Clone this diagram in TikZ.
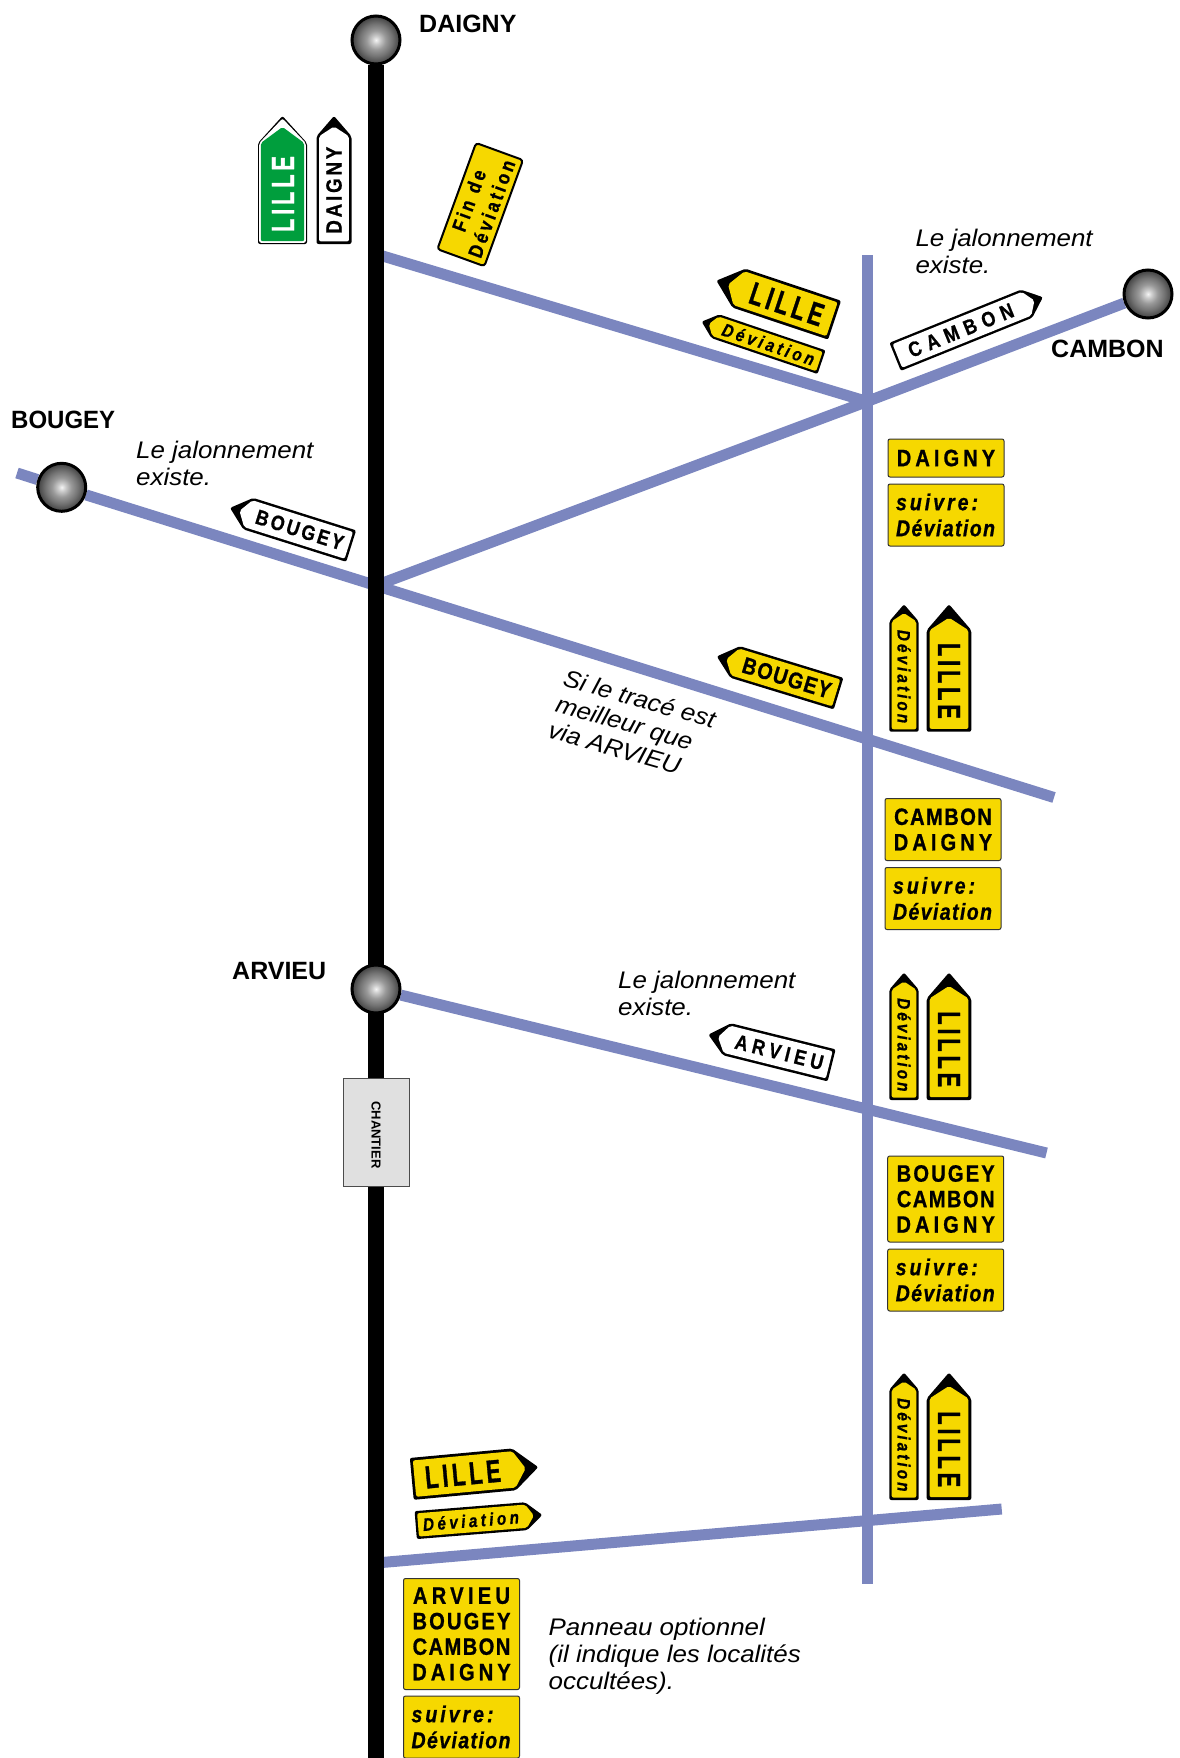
\documentclass[tikz,border=0pt]{standalone}
\usepackage{fontspec}
\setmainfont{Liberation Sans}
\newfontfamily\signfont{Liberation Sans}[FakeStretch=0.85, FakeBold=0.8]
\newfontfamily\narrowfont{Liberation Sans}[FakeStretch=0.68, FakeBold=1]
\newfontfamily\notefont{Liberation Sans}[FakeStretch=1.08]
\usepackage{xcolor}
\usepackage{tikz}
\usetikzlibrary{positioning, calc, backgrounds}
\definecolor{route}{HTML}{7B86BF}
\definecolor{jaune}{HTML}{F6D800}
\definecolor{vert}{HTML}{009E3D}
\definecolor{chantier}{HTML}{E0E0E0}
\pgfdeclareradialshading{ballsteps}{\pgfpoint{0bp}{0bp}}{color(0bp)=(black!4); color(4bp)=(black!20); color(10bp)=(black!40); color(17bp)=(black!55); color(25bp)=(black!75); color(50bp)=(black!75)}
\newcommand{\ls}[2]{{\addfontfeature{LetterSpace=#1}#2}}
\newcommand{\fz}[1]{\fontsize{#1}{#1}\selectfont}
% length, height, tip, inset, tip inset, colour
\newcommand{\fingerpoly}[6]{%
  \fill[#6, rounded corners=2pt] ({-#1/2+#4},{-#2/2+#4}) -- ({#1/2-#3},{-#2/2+#4}) -- ({#1/2-#5},0)
    -- ({#1/2-#3},{#2/2-#4}) -- ({-#1/2+#4},{#2/2-#4}) -- cycle;}
% name, centre, angle, direction, length, height, colour, text
\newcommand{\fingersign}[8]{%
  \begin{scope}[shift={(#2)}, rotate=#3, xscale=#4]
    \pgfmathsetmacro{\tipl}{0.58*#6}
    \pgfmathsetmacro{\bord}{1.5+0.03*#6}
    \pgfmathsetmacro{\wedge}{0.3*#6}
    \fingerpoly{#5}{#6}{\tipl}{0}{0}{black}
    \fingerpoly{#5}{#6}{\tipl}{\bord}{\wedge}{#7}
    \node[fingertext, rotate=#3] (#1) at ({-\tipl/2},0) {#8};
  \end{scope}}

\begin{document}
\begin{tikzpicture}[
  x=1pt, y=-1pt,
  road/.style={route, line width=11pt},
  mainroad/.style={black, line width=16pt},
  cityball/.style={circle, shade, shading=ballsteps, draw=black, line width=3pt, minimum size=48pt, inner sep=0pt},
  ville/.style={font=\bfseries\fontsize{25}{27}\selectfont, anchor=base west, inner sep=0pt},
  note/.style={font=\notefont\itshape\fontsize{24}{27}\selectfont, anchor=north west, align=left, inner sep=0pt},
  fingertext/.style={inner sep=0pt, font=\signfont\bfseries},
  panel/.style={draw=black!80, fill=jaune, line width=1pt, rounded corners=2pt, minimum width=116pt, inner sep=0pt,
                align=center, font=\signfont\bfseries\fontsize{23.7}{25.5}\selectfont},
  suivre/.style={panel, minimum height=62pt, align=left, text width=100pt, font=\signfont\bfseries\itshape\fontsize{23}{26}\selectfont}
]
  \useasboundingbox (0,0) rectangle (1180,1758);

  \coordinate (nord) at (867,255);
  \coordinate (basv) at (867,1584);
  \coordinate (carrefour) at (867,401.5);
  \coordinate (echangeur) at (376,585.5);
  \coordinate (depart) at (376,254);
  \coordinate (sortie) at (376,1563);
  \coordinate (sud) at (376,1758);
  \coordinate (finb) at (17,473);
  \coordinate (fine) at (1054,797.5);
  \coordinate (fina) at (1046.5,1153);
  \coordinate (finl) at (1001.7,1509);

  \node[cityball] (daigny) at (376,40) {};
  \node[cityball] (cambon) at (1148,294) {};
  \node[cityball] (bougey) at (61.7,487.3) {};
  \node[cityball] (arvieu) at (376,989) {};

  % Blue roads, then the closed road on top
  \begin{scope}[on background layer]
    \draw[road] (nord) -- (basv);
    \draw[road] (depart) -- (carrefour);
    \draw[road] (echangeur) -- (carrefour) -- (cambon);
    \draw[road] (finb) -- (bougey);
    \draw[road] (bougey) -- (fine);
    \draw[road] (arvieu) -- (fina);
    \draw[road] (sortie) -- (finl);
    \draw[mainroad] (daigny) -- (sud);
  \end{scope}

  \node[draw=black!70, fill=chantier, line width=1pt, minimum width=66pt, minimum height=108pt, inner sep=0pt] (zone) at (376.3,1132) {};
  \node[rotate=-90, inner sep=0pt, font=\bfseries\fontsize{13}{13}\selectfont] (chantierlbl) at (376,1135) {CHANTIER};

  \node[ville] (ldaigny) at (419,33) {DAIGNY};
  \node[ville] (lcambon) at (1051,357) {CAMBON};
  \node[ville, xscale=0.96] (lbougey) at (11,428.5) {BOUGEY};
  \node[ville] (larvieu) at (232,979) {ARVIEU};

  \node[note] (notec) at (915.3,229) {Le jalonnement\\existe.};
  \node[note] (noteb) at (136,440.5) {Le jalonnement\\existe.};
  \node[note] (notea) at (618,970.5) {Le jalonnement\\existe.};
  \node[note] (noteo) at (548.5,1618) {Panneau optionnel\\(il indique les localités\\occultées).};
  \node[note, rotate=-16] (notet) at (566.5,668) {Si le tracé est\\meilleur que\\via ARVIEU};

  % Top signs
  \begin{scope}[shift={(282.5,180)}, rotate=90]
    \fingerpoly{128}{49}{27}{0}{0}{black}
    \fingerpoly{128}{49}{27}{1.2}{2.5}{white}
    \fingerpoly{128}{49}{27}{2.8}{11}{vert}
  \end{scope}
  \node[fingertext, rotate=90, text=white] (slille) at (283,194) {\narrowfont\fz{32}\ls{12}{LILLE}};
  \fingersign{sdaigny}{334,180}{90}{1}{128}{35}{white}{\fz{22}\ls{13}{DAIGNY}}
  \node[fill=jaune, draw=black, line width=2pt, rounded corners=3pt, minimum width=113pt, minimum height=50pt, inner sep=0pt,
        rotate=70, align=center, font=\signfont\bfseries\fontsize{20}{24}\selectfont] (findev) at (480.2,204.6)
        {\ls{16}{Fin\hspace{9pt}de}\\\ls{16}{Déviation}};

  % Signs along the roads
  \fingersign{slille2}{775.5,300.4}{-18.5}{-1}{124.6}{41}{jaune}{\narrowfont\fz{32}\ls{12}{LILLE}}
  \fingersign{sdev2}{761.6,341.9}{-18.7}{-1}{126.5}{25}{jaune}{\fz{18}\itshape\ls{19}{Déviation}}
  \fingersign{scambon}{969,327}{22}{1}{159.3}{30.3}{white}{\fz{21}\ls{30}{CAMBON}}
  \fingersign{sbougey}{290.6,527}{-17.5}{-1}{127}{33}{white}{\fz{21}\ls{13}{BOUGEY}}
  \fingersign{sbougey2}{777.7,675}{-17}{-1}{127.3}{33}{jaune}{\fz{23}\ls{6}{BOUGEY}}
  \fingersign{sarvieu}{770,1050}{-14}{-1}{127}{33}{white}{\fz{21}\ls{22}{ARVIEU}}
  \fingersign{slille3}{475,1473}{5.3}{1}{127}{42}{jaune}{\narrowfont\fz{32}\ls{12}{LILLE}}
  \fingersign{sdev3}{479,1520}{4.6}{1}{127}{28}{jaune}{\fz{18}\itshape\ls{19}{Déviation}}

  % Pairs along the detour
  \foreach \y/\k in {668/a, 1036.3/b, 1436.3/c}{
    \fingersign{pdev\k}{904,\y}{-90}{-1}{127.4}{29.4}{jaune}{\fz{18}\itshape\ls{17}{Déviation}}
    \fingersign{plille\k}{949,\y}{-90}{-1}{127.4}{44.6}{jaune}{\narrowfont\fz{32}\ls{12}{LILLE}}
  }

  % Panels
  \node[panel, minimum height=38pt] (pdaigny) at (946,458) {\ls{17}{DAIGNY}};
  \node[panel, minimum height=62pt] (pcambon) at (943,829.5) {\ls{6}{CAMBON}\\\ls{17}{DAIGNY}};
  \node[panel, minimum height=86pt] (pbougey) at (945.7,1199) {\ls{9}{BOUGEY}\\\ls{6}{CAMBON}\\\ls{17}{DAIGNY}};
  \node[panel, minimum height=111pt] (parvieu) at (461.5,1634) {\ls{18}{ARVIEU}\\\ls{9}{BOUGEY}\\\ls{6}{CAMBON}\\\ls{17}{DAIGNY}};
  \foreach \x/\y/\k in {946/515/a, 943/898.5/b, 945.7/1280/c, 461.5/1727/d}{
    \node[suivre] (suivre\k) at (\x,\y) {\ls{13}{suivre:}\\\ls{6}{Déviation}};
  }

\end{tikzpicture}
\end{document}
